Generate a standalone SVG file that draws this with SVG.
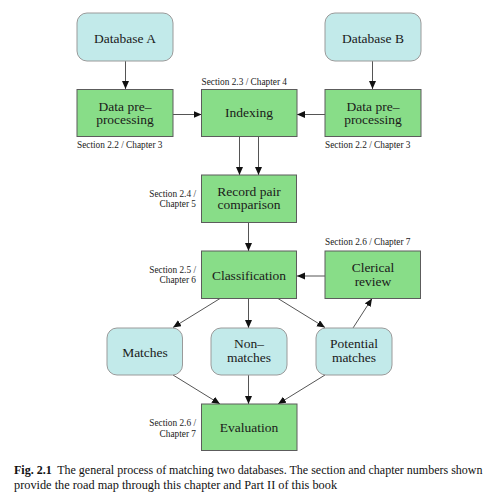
<svg xmlns="http://www.w3.org/2000/svg" width="495" height="496" viewBox="0 0 495 496">
<style>
.proc{fill:#88dd88;stroke:#5c5c5c;stroke-width:1}
.data{fill:#c2eaea;stroke:#9a9a9a;stroke-width:1}
.t{font-family:"Liberation Serif","Times New Roman",serif;font-size:13.5px;fill:#1a1a1a;text-anchor:middle}
.s{font-family:"Liberation Serif","Times New Roman",serif;font-size:9.3px;fill:#1a1a1a}
.r{text-anchor:end}
.cap{font-family:"Liberation Serif","Times New Roman",serif;font-size:12px;fill:#111}
.e{fill:none;stroke:#555;stroke-width:1;marker-end:url(#ah)}
</style>
<defs>
<marker id="ah" markerUnits="userSpaceOnUse" markerWidth="10" markerHeight="10" refX="8" refY="3.5" orient="auto">
<path d="M0,0 L8,3.5 L0,7 Z" fill="#111"/>
</marker>
</defs>
<rect width="495" height="496" fill="#fff"/>
<g id="connectors">
<line class="e" x1="125.5" y1="61" x2="125.5" y2="89"/>
<line class="e" x1="372.5" y1="61" x2="372.5" y2="89"/>
<line class="e" x1="173" y1="114.5" x2="201.5" y2="114.5"/>
<line class="e" x1="325" y1="114.5" x2="297" y2="114.5"/>
<line class="e" x1="239.5" y1="137" x2="239.5" y2="175"/>
<line class="e" x1="258.5" y1="137" x2="258.5" y2="175"/>
<line class="e" x1="248.5" y1="222.5" x2="248.5" y2="251"/>
<line class="e" x1="325" y1="276" x2="297" y2="276"/>
<line class="e" x1="220" y1="298.5" x2="173" y2="327.5"/>
<line class="e" x1="248.5" y1="298.5" x2="248.5" y2="328"/>
<line class="e" x1="278" y1="298.5" x2="325" y2="327.5"/>
<line class="e" x1="353" y1="328" x2="372" y2="298.5"/>
<line class="e" x1="173" y1="375" x2="220" y2="404"/>
<line class="e" x1="248.5" y1="375" x2="248.5" y2="404"/>
<line class="e" x1="325" y1="375" x2="278" y2="404"/>
</g>
<g id="databaseA"><rect class="data" x="77" y="13" width="96" height="48" rx="10"/><text class="t" x="125" y="42.5">Database A</text></g>
<g id="databaseB"><rect class="data" x="325" y="13" width="96" height="48" rx="10"/><text class="t" x="373" y="42.5">Database B</text></g>
<g id="preprocA"><rect class="proc" x="77" y="89.5" width="96" height="47"/><text class="t" x="125" y="110.5">Data pre–</text><text class="t" x="125" y="124">processing</text><text class="s" x="77" y="148">Section 2.2 / Chapter 3</text></g>
<g id="indexing"><rect class="proc" x="201.5" y="89.5" width="95.5" height="47"/><text class="t" x="249" y="117">Indexing</text><text class="s" x="201.5" y="84.5">Section 2.3 / Chapter 4</text></g>
<g id="preprocB"><rect class="proc" x="325" y="89.5" width="96" height="47"/><text class="t" x="373" y="110.5">Data pre–</text><text class="t" x="373" y="124">processing</text><text class="s" x="325" y="148">Section 2.2 / Chapter 3</text></g>
<g id="comparison"><rect class="proc" x="201.5" y="175" width="95" height="47.5"/><text class="t" x="249" y="195.5">Record pair</text><text class="t" x="249" y="209">comparison</text><text class="s r" x="196" y="197">Section 2.4 /</text><text class="s r" x="196" y="207">Chapter 5</text></g>
<g id="classification"><rect class="proc" x="201.5" y="251" width="95" height="47.5"/><text class="t" x="249" y="280">Classification</text><text class="s r" x="196" y="273">Section 2.5 /</text><text class="s r" x="196" y="283">Chapter 6</text></g>
<g id="clerical"><rect class="proc" x="325" y="251" width="95.5" height="47.5"/><text class="t" x="373" y="271.5">Clerical</text><text class="t" x="373" y="286">review</text><text class="s" x="325" y="245">Section 2.6 / Chapter 7</text></g>
<g id="matches"><rect class="data" x="107" y="328" width="75.5" height="47" rx="10"/><text class="t" x="145" y="356.5">Matches</text></g>
<g id="nonmatches"><rect class="data" x="211" y="328" width="76" height="47" rx="10"/><text class="t" x="249" y="347.5">Non–</text><text class="t" x="249" y="362">matches</text></g>
<g id="potential"><rect class="data" x="316" y="328" width="76" height="47" rx="10"/><text class="t" x="354" y="347.5">Potential</text><text class="t" x="354" y="362">matches</text></g>
<g id="evaluation"><rect class="proc" x="201.5" y="404" width="95.5" height="46.5"/><text class="t" x="249" y="431.5">Evaluation</text><text class="s r" x="196" y="426">Section 2.6 /</text><text class="s r" x="196" y="436.5">Chapter 7</text></g>
<g id="caption">
<text class="cap" x="14" y="474"><tspan font-weight="bold">Fig. 2.1</tspan><tspan dx="5.5">The general process of matching two databases. The section and chapter numbers shown</tspan></text>
<text class="cap" x="14" y="489" style="font-size:12.3px">provide the road map through this chapter and Part II of this book</text>
</g>
</svg>
